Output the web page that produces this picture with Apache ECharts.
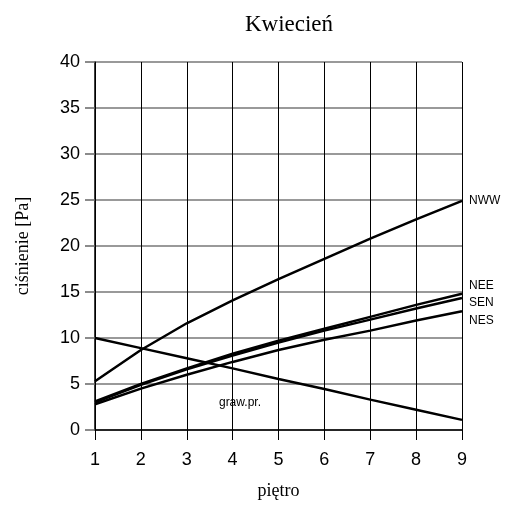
<!DOCTYPE html>
<html><head><meta charset="utf-8">
<script src="https://cdn.jsdelivr.net/npm/echarts@6/dist/echarts.min.js"></script>
<style>html,body{margin:0;padding:0;background:#fff}#c{width:514px;height:505px}</style>
</head><body><div id="c"></div>
<script>
const floors = [1, 2, 3, 4, 5, 6, 7, 8, 9];
const NWW = [5.3, 8.7, 11.6, 14.1, 16.4, 18.6, 20.8, 22.9, 24.9];
const NEE = [3.1, 5.0, 6.7, 8.3, 9.7, 11.0, 12.3, 13.6, 14.8];
const SEN = [3.0, 4.9, 6.6, 8.1, 9.5, 10.8, 12.0, 13.2, 14.35];
const NES = [2.8, 4.5, 6.0, 7.4, 8.7, 9.8, 10.8, 11.9, 12.9];
const GRAW = [10.0, 8.9, 7.8, 6.7, 5.55, 4.45, 3.3, 2.2, 1.1];
const grawLabel = {name: 'graw.pr.', x: 4.16, y: 3.0};

const pair = arr => floors.map((f, i) => [f, arr[i]]);
const lineStyle = {color: '#000', width: 2.5};
function mk(name, arr, off) {
  return {
    type: 'line', name, data: pair(arr), symbol: 'none', lineStyle, silent: true,
    endLabel: off === null ? {show: false} : {
      show: true, formatter: name, offset: [-1, off],
      fontFamily: 'Liberation Sans', fontSize: 12, color: '#000'
    }
  };
}
const chart = echarts.init(document.getElementById('c'), null, {renderer: 'canvas'});
chart.setOption({
  animation: false,
  title: {text: 'Kwiecień', left: 284, textAlign: 'center', top: 8,
    textStyle: {fontFamily: 'Liberation Serif', fontSize: 23, fontWeight: 'normal', color: '#000'}},
  grid: {left: 95, right: 52, top: 62, bottom: 74},
  xAxis: {
    type: 'value', min: 1, max: 9, interval: 1,
    name: 'piętro', nameLocation: 'middle', nameGap: 52,
    nameTextStyle: {fontFamily: 'Liberation Serif', fontSize: 18, color: '#000'},
    axisLine: {lineStyle: {color: '#000', width: 1.5}},
    axisTick: {show: true, length: 10, lineStyle: {color: '#000'}},
    axisLabel: {fontFamily: 'Liberation Sans', fontSize: 18, color: '#000', margin: 21},
    splitLine: {show: true, lineStyle: {color: '#000', width: 1}}
  },
  yAxis: {
    type: 'value', min: 0, max: 40, interval: 5,
    name: 'ciśnienie [Pa]', nameLocation: 'middle', nameGap: 63,
    nameTextStyle: {fontFamily: 'Liberation Serif', fontSize: 18, color: '#000'},
    axisLine: {show: true, lineStyle: {color: '#000', width: 1.5}},
    axisTick: {show: true, length: 10, lineStyle: {color: '#666', width: 1.5}},
    axisLabel: {fontFamily: 'Liberation Sans', fontSize: 18, color: '#000', margin: 15},
    splitLine: {show: true, lineStyle: {color: '#777', width: 1.5}}
  },
  series: [
    mk('NWW', NWW, 0),
    mk('NEE', NEE, -8),
    mk('SEN', SEN, 5),
    mk('NES', NES, 9),
    Object.assign(mk('graw.pr.', GRAW, null), {
      markPoint: {
        symbol: 'circle', symbolSize: 0, silent: true,
        data: [{coord: [grawLabel.x, grawLabel.y], value: grawLabel.name}],
        label: {show: true, position: 'inside', formatter: grawLabel.name,
          fontFamily: 'Liberation Sans', fontSize: 12, color: '#000'}
      }
    })
  ]
});
</script></body></html>
